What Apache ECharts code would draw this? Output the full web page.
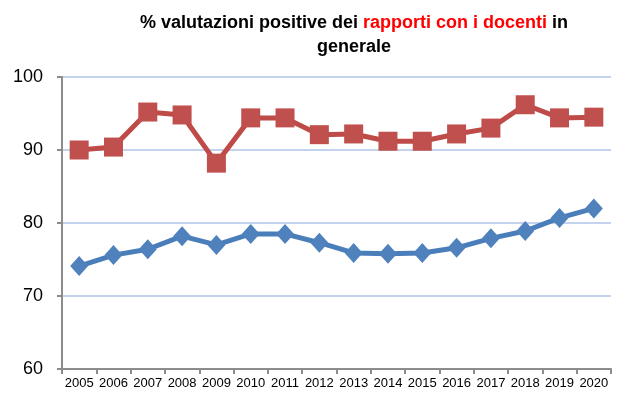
<!DOCTYPE html>
<html>
<head>
<meta charset="utf-8">
<script src="https://cdn.jsdelivr.net/npm/echarts@6/dist/echarts.min.js"></script>
<style>
  html, body { margin: 0; padding: 0; background: #fff; }
  #chart { width: 619px; height: 401px; }
</style>
</head>
<body>
<div id="chart"></div>
<script>
// anni
const years = ['2005', '2006', '2007', '2008', '2009', '2010', '2011', '2012',
  '2013', '2014', '2015', '2016', '2017', '2018', '2019', '2020']
// serie rossa (quadrati)
const redValues = [90.0, 90.4, 95.2, 94.8, 88.2, 94.4, 94.4, 92.1,
  92.2, 91.2, 91.2, 92.2, 93.0, 96.2, 94.4, 94.5]
// serie blu (rombi)
const blueValues = [74.1, 75.6, 76.4, 78.2, 77.0, 78.5, 78.5, 77.3,
  75.9, 75.8, 75.9, 76.6, 77.9, 78.9, 80.7, 82.0]

const font = 'Liberation Sans'

const option = {
  animation: false,
  title: {
    text: '{a|% valutazioni positive dei }{r|rapporti con i docenti}{a| in}\n{a|generale}',
    left: 349,
    top: 6,
    textAlign: 'center',
    textStyle: {
      fontFamily: font,
      rich: {
        a: { color: '#000', fontSize: 18, fontWeight: 'bold', fontFamily: font, lineHeight: 24 },
        r: { color: '#ff0000', fontSize: 18, fontWeight: 'bold', fontFamily: font, lineHeight: 24 }
      }
    }
  },
  grid: {
    left: 62,
    right: 8,
    top: 77,
    bottom: 32
  },
  xAxis: {
    type: 'category',
    data: years,
    boundaryGap: true,
    axisLine: { lineStyle: { color: '#8c8c8c', width: 2 } },
    axisTick: { show: true, length: 5, lineStyle: { color: '#8c8c8c', width: 2 } },
    axisLabel: {
      color: '#000',
      fontFamily: font,
      fontSize: 13,
      margin: 8,
      interval: 0
    }
  },
  yAxis: {
    type: 'value',
    min: 60,
    max: 100,
    interval: 10,
    axisLine: { show: true, lineStyle: { color: '#8c8c8c', width: 2 } },
    axisTick: { show: true, length: 5, lineStyle: { color: '#8c8c8c', width: 2 } },
    axisLabel: {
      color: '#000',
      fontFamily: font,
      fontSize: 18,
      margin: 19
    },
    splitLine: { lineStyle: { color: '#c3d3ee', width: 2 } }
  },
  series: [{
    type: 'line',
    data: redValues,
    symbol: 'rect',
    symbolSize: 19,
    lineStyle: { color: '#be4b48', width: 5 },
    itemStyle: { color: '#c0504d' }
  }, {
    type: 'line',
    data: blueValues,
    symbol: 'diamond',
    symbolSize: [18, 20],
    lineStyle: { color: '#4a7ebb', width: 5 },
    itemStyle: { color: '#4f81bd' }
  }]
}

const myChart = echarts.init(document.getElementById('chart'))
myChart.setOption(option, true)
</script>
</body>
</html>
